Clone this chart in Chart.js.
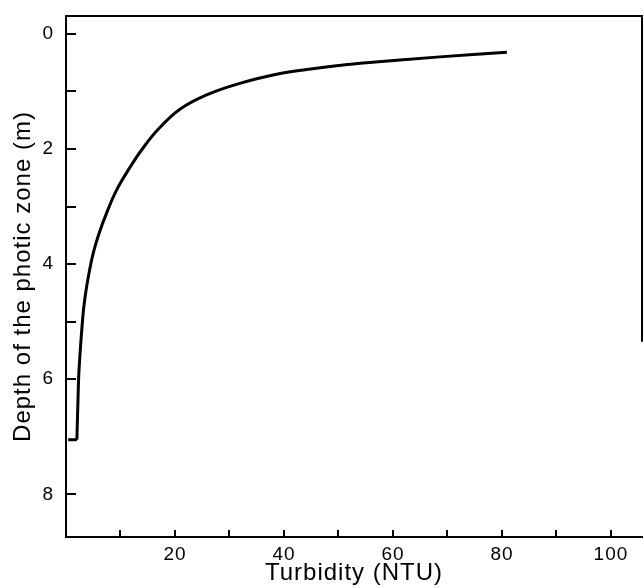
<!DOCTYPE html>
<html>
<head>
<meta charset="utf-8">
<script src="https://cdn.jsdelivr.net/npm/chart.js@4/dist/chart.umd.min.js"></script>
<style>
  html, body { margin: 0; padding: 0; background: #fff; }
  #c { display: block; }
</style>
</head>
<body>
<canvas id="c" width="644" height="588"></canvas>
<script>
// Data
const turbidity = [0.4, 2.0, 2.2, 2.4, 3.1, 3.5, 4.1, 5.0, 6.2, 7.5, 9.3, 11.8, 14.0, 17.0, 20.9, 25.8, 31.9, 39.3, 44.2, 50.0, 54.0, 68.6, 80.9];
const depth     = [7.05, 7.05, 6.36, 5.82, 4.90, 4.57, 4.22, 3.81, 3.43, 3.10, 2.71, 2.31, 2.00, 1.65, 1.31, 1.06, 0.86, 0.69, 0.62, 0.55, 0.51, 0.40, 0.32];

const xLabelValues = [20, 40, 60, 80, 100];
const yLabelValues = [0, 2, 4, 6, 8];
const xTickMarks = [10, 20, 30, 40, 50, 60, 70, 80, 90, 100];
const yTickMarks = [0, 1, 2, 3, 4, 5, 6, 8];
const xTitle = 'Turbidity (NTU)';
const yTitle = 'Depth of the photic zone (m)';
const frameRightEndDepth = 5.35;

const tailPoints = turbidity.slice(0, 2).map((t, i) => ({ x: t, y: depth[i] }));
const curvePoints = turbidity.slice(1).map((t, i) => ({ x: t, y: depth[i + 1] }));

const FONT = "'Liberation Sans', Arial, Helvetica, sans-serif";

const textSpacing = {
  id: 'textSpacing',
  beforeDraw(chart) { chart.ctx.letterSpacing = '1px'; }
};

const innerTicks = {
  id: 'innerTicks',
  afterDraw(chart) {
    const { ctx, chartArea, scales } = chart;
    const xs = scales.x, ys = scales.y;
    ctx.save();
    ctx.strokeStyle = '#000';
    ctx.lineWidth = 2;
    ctx.beginPath();
    xTickMarks.forEach(v => {
      const px = Math.round(xs.getPixelForValue(v));
      ctx.moveTo(px, chartArea.bottom);
      ctx.lineTo(px, chartArea.bottom - 7);
    });
    yTickMarks.forEach(v => {
      const py = Math.round(ys.getPixelForValue(v));
      ctx.moveTo(chartArea.left, py);
      ctx.lineTo(chartArea.left + 10, py);
    });
    // frame: top edge and (partial) right edge
    ctx.moveTo(chartArea.left, chartArea.top);
    ctx.lineTo(chartArea.right, chartArea.top);
    ctx.lineTo(chartArea.right, ys.getPixelForValue(frameRightEndDepth));
    ctx.stroke();
    ctx.restore();
  }
};

new Chart(document.getElementById('c'), {
  type: 'scatter',
  data: {
    datasets: [
      {
        data: curvePoints,
        showLine: true,
        borderColor: '#000',
        borderWidth: 3,
        pointRadius: 0,
        tension: 0.4,
        fill: false
      },
      {
        data: tailPoints,
        showLine: true,
        borderColor: '#000',
        borderWidth: 3,
        pointRadius: 0,
        tension: 0,
        fill: false
      }
    ]
  },
  options: {
    responsive: false,
    animation: false,
    layout: { padding: { top: 16, right: 2, left: 0, bottom: 0 } },
    plugins: { legend: { display: false }, tooltip: { enabled: false } },
    scales: {
      x: {
        type: 'linear',
        position: 'bottom',
        min: 0,
        max: 105.7,
        grid: { display: false, drawTicks: false },
        border: { display: true, color: '#000', width: 2 },
        afterBuildTicks: s => { s.ticks = xLabelValues.map(v => ({ value: v })); },
        ticks: {
          autoSkip: false,
          maxRotation: 0,
          padding: 6,
          color: '#000',
          font: { family: FONT, size: 19 },
          callback: v => String(v)
        },
        title: {
          display: true,
          text: xTitle,
          color: '#000',
          font: { family: FONT, size: 24 },
          padding: { top: 0, bottom: 0 }
        },
        afterFit: s => { s.height = 51; s.paddingLeft = 0; s.paddingRight = 0; }
      },
      y: {
        type: 'linear',
        position: 'left',
        reverse: true,
        min: -0.31,
        max: 8.74,
        grid: { display: false, drawTicks: false },
        border: { display: true, color: '#000', width: 2 },
        afterBuildTicks: s => { s.ticks = yLabelValues.map(v => ({ value: v })); },
        ticks: {
          autoSkip: false,
          padding: 12,
          color: '#000',
          font: { family: FONT, size: 19 },
          callback: v => String(v)
        },
        title: {
          display: true,
          text: yTitle,
          color: '#000',
          font: { family: FONT, size: 24 },
          padding: { top: 9, bottom: 0 }
        },
        afterFit: s => { s.width = 66; s.paddingTop = 0; s.paddingBottom = 0; }
      }
    }
  },
  plugins: [textSpacing, innerTicks]
});
</script>
</body>
</html>
